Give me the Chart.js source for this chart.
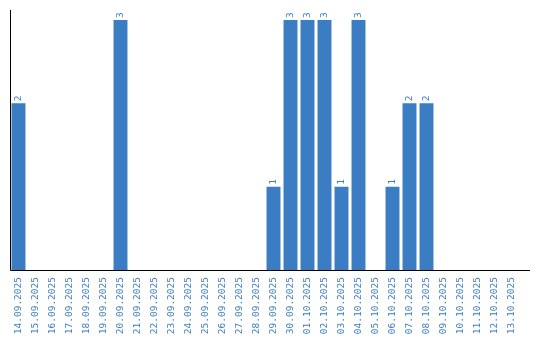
<!DOCTYPE html>
<html>
<head>
<meta charset="utf-8">
<script src="https://cdn.jsdelivr.net/npm/chart.js@4"></script>
<style>
  body { margin: 0; background: #fff; }
  canvas { display: block; }
</style>
</head>
<body>
<canvas id="chart" width="540" height="340"></canvas>
<script>
const dates = [
    '14.09.2025', '15.09.2025', '16.09.2025', '17.09.2025', '18.09.2025',
    '19.09.2025', '20.09.2025', '21.09.2025', '22.09.2025', '23.09.2025',
    '24.09.2025', '25.09.2025', '26.09.2025', '27.09.2025', '28.09.2025',
    '29.09.2025', '30.09.2025', '01.10.2025', '02.10.2025', '03.10.2025',
    '04.10.2025', '05.10.2025', '06.10.2025', '07.10.2025', '08.10.2025',
    '09.10.2025', '10.10.2025', '11.10.2025', '12.10.2025', '13.10.2025'
];
const counts = [
    2, 0, 0, 0, 0,
    0, 3, 0, 0, 0,
    0, 0, 0, 0, 0,
    1, 3, 3, 3, 1,
    3, 0, 1, 2, 2,
    0, 0, 0, 0, 0
];

const blue = '#3b7dc2';
const monoFont = "'DejaVu Sans Mono', monospace";

// axis lines + rotated value labels
const decorations = {
    id: 'decorations',
    afterDatasetsDraw(chart) {
        const ctx = chart.ctx;
        const area = chart.chartArea;
        ctx.save();
        ctx.strokeStyle = '#000';
        ctx.lineWidth = 1;
        ctx.beginPath();
        ctx.moveTo(area.left + 0.5, area.top);
        ctx.lineTo(area.left + 0.5, area.bottom + 0.5);
        ctx.lineTo(area.right + 10, area.bottom + 0.5);
        ctx.stroke();

        ctx.fillStyle = blue;
        ctx.font = "9.5px " + monoFont;
        ctx.textAlign = 'left';
        ctx.textBaseline = 'middle';
        const meta = chart.getDatasetMeta(0);
        meta.data.forEach((bar, i) => {
            const v = counts[i];
            if (!v) return;
            ctx.save();
            ctx.translate(bar.x, bar.y - 2);
            ctx.rotate(-Math.PI / 2);
            ctx.fillText(String(v), 0, 0);
            ctx.restore();
        });
        ctx.restore();
    }
};

new Chart(document.getElementById('chart'), {
    type: 'bar',
    data: {
        labels: dates,
        datasets: [{
            data: counts,
            backgroundColor: blue,
            barPercentage: 0.82,
            categoryPercentage: 1
        }]
    },
    options: {
        responsive: false,
        animation: false,
        layout: {
            padding: { left: 10, top: 10, right: 20, bottom: 0 }
        },
        plugins: {
            legend: { display: false },
            tooltip: { enabled: false }
        },
        scales: {
            x: {
                grid: { display: false, drawTicks: false },
                border: { display: false },
                ticks: {
                    color: blue,
                    font: { family: monoFont, size: 9.5 },
                    minRotation: 90,
                    maxRotation: 90,
                    padding: 7,
                    autoSkip: false
                },
                afterFit(scale) {
                    scale.height = 70;
                }
            },
            y: {
                display: false,
                min: 0,
                max: 3.12
            }
        }
    },
    plugins: [decorations]
});
</script>
</body>
</html>
